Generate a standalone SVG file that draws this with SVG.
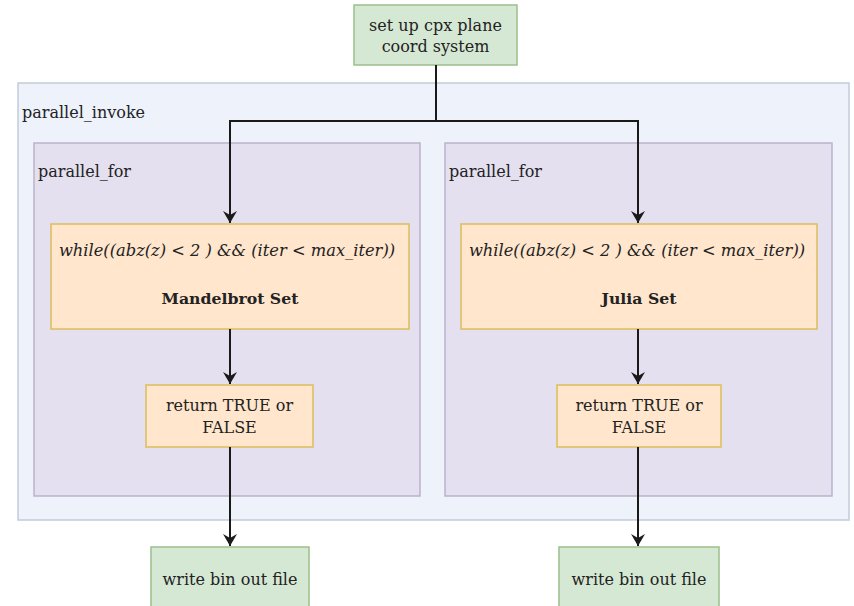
<svg xmlns="http://www.w3.org/2000/svg" width="854" height="606" viewBox="0 0 854 606">
<style>
text{font-family:'DejaVu Serif',serif;font-size:16px;fill:#222;}
.c{text-anchor:middle;}
.green{fill:#d5e8d4;stroke:#9cbf8c;stroke-width:1.5;}
.orange{fill:#ffe6cc;stroke:#dcbc5c;stroke-width:1.5;}
.outer{fill:#edf2fb;stroke:#c3cbda;stroke-width:1.5;}
.lav{fill:#e4e0ef;stroke:#bdb2cc;stroke-width:1.5;}
.edge{fill:none;stroke:#1a1a1a;stroke-width:2;}
.it{font-style:italic;font-size:16.3px;}
.b{font-weight:bold;font-size:15.7px;}
</style>
<defs>
<marker id="arr" markerWidth="12" markerHeight="14" refX="12" refY="7" orient="auto" markerUnits="userSpaceOnUse">
<path d="M0,0 L12,7 L0,14 L4,7 Z" fill="#1a1a1a"/>
</marker>
</defs>
<rect width="854" height="606" fill="#ffffff"/>
<g id="parallel_invoke">
<rect class="outer" x="18" y="83" width="831" height="437"/>
<text x="22" y="118">parallel_invoke</text>
</g>
<g id="parallel_for_left">
<rect class="lav" x="34" y="143" width="386" height="353"/>
<text x="38" y="177">parallel_for</text>
</g>
<g id="parallel_for_right">
<rect class="lav" x="445" y="143" width="387" height="353"/>
<text x="449" y="177">parallel_for</text>
</g>
<g id="setup">
<rect class="green" x="354" y="5" width="163" height="60"/>
<text class="c" x="435.5" y="31">set up cpx plane</text>
<text class="c" x="435.5" y="52">coord system</text>
</g>
<g id="mandelbrot">
<rect class="orange" x="51" y="224" width="358" height="105"/>
<text class="c it" x="227" y="256">while((abz(z) &lt; 2 ) &amp;&amp; (iter &lt; max_iter))</text>
<text class="c b" x="230" y="304">Mandelbrot Set</text>
</g>
<g id="julia">
<rect class="orange" x="461" y="224" width="356" height="105"/>
<text class="c it" x="637" y="256">while((abz(z) &lt; 2 ) &amp;&amp; (iter &lt; max_iter))</text>
<text class="c b" x="639" y="304">Julia Set</text>
</g>
<g id="return_left">
<rect class="orange" x="146" y="385" width="167" height="62"/>
<text class="c" x="229.5" y="411">return TRUE or</text>
<text class="c" x="229.5" y="433">FALSE</text>
</g>
<g id="return_right">
<rect class="orange" x="557" y="385" width="164" height="62"/>
<text class="c" x="639" y="411">return TRUE or</text>
<text class="c" x="639" y="433">FALSE</text>
</g>
<g id="write_left">
<rect class="green" x="151" y="547" width="158" height="62"/>
<text class="c" x="230" y="585">write bin out file</text>
</g>
<g id="write_right">
<rect class="green" x="559" y="547" width="160" height="62"/>
<text class="c" x="639" y="585">write bin out file</text>
</g>
<g id="connectors">
<path class="edge" d="M436,65 V121 H230 V223" marker-end="url(#arr)"/>
<path class="edge" d="M436,121 H638 V223" marker-end="url(#arr)"/>
<path class="edge" d="M230,329 V384" marker-end="url(#arr)"/>
<path class="edge" d="M638,329 V384" marker-end="url(#arr)"/>
<path class="edge" d="M230,447 V546" marker-end="url(#arr)"/>
<path class="edge" d="M638,447 V546" marker-end="url(#arr)"/>
</g>
</svg>
